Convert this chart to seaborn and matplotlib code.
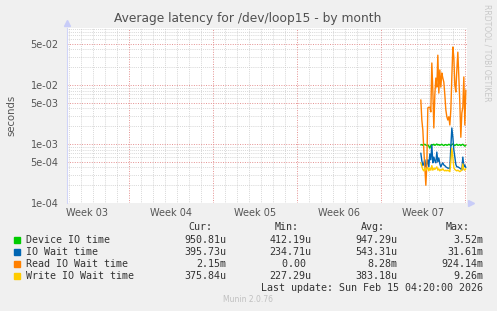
import matplotlib
matplotlib.use("Agg")
import numpy as np
import pandas as pd
import seaborn as sns
import matplotlib.pyplot as plt
import matplotlib.dates as mdates
import matplotlib.transforms as mtransforms
from matplotlib.ticker import FixedLocator, FixedFormatter, LogLocator, NullFormatter
from matplotlib.patches import Rectangle

# ---------------- data ----------------
series_names = ["Device IO time", "IO Wait time", "Read IO Wait time", "Write IO Wait time"]
series_colors = ["#00CC00", "#0066B3", "#FF8000", "#FFCC00"]

start_time = "2026-02-11 08:00"
step = "2h"

device_io = [9.6e-4, 9.8e-4, 9.5e-4, 9.7e-4, 9.9e-4, 9.6e-4, 9.4e-4, 9.7e-4, 9.2e-4, 8.5e-4,
             9.4e-4, 9.8e-4, 9.6e-4, 9.9e-4, 9.5e-4, 9.7e-4, 1.0e-3, 9.6e-4, 9.8e-4, 9.5e-4,
             9.7e-4, 9.9e-4, 9.6e-4, 9.4e-4, 9.7e-4, 9.8e-4, 9.5e-4, 9.6e-4, 9.9e-4, 9.7e-4,
             9.3e-4, 9.8e-4, 1.0e-3, 9.6e-4, 9.4e-4, 9.7e-4, 9.9e-4, 9.5e-4, 9.6e-4, 9.8e-4,
             9.4e-4, 9.7e-4, 9.9e-4, 9.5e-4, 9.2e-4, 9.5e-4]
io_wait = [7.0e-4, 5.2e-4, 4.3e-4, 4.7e-4, 5.4e-4, 4.1e-4, 4.6e-4, 5.4e-4, 4.1e-4, 6.8e-4,
           5.4e-4, 9.6e-4, 4.8e-4, 6.0e-4, 5.2e-4, 4.8e-4, 7.3e-4, 5.0e-4, 5.8e-4, 4.6e-4,
           4.1e-4, 4.5e-4, 4.8e-4, 4.4e-4, 4.3e-4, 4.1e-4, 4.0e-4, 3.9e-4, 3.9e-4, 3.8e-4,
           8.9e-4, 1.87e-3, 1.31e-3, 8.0e-4, 6.0e-4, 4.5e-4, 4.1e-4, 4.1e-4, 4.0e-4, 3.9e-4,
           3.8e-4, 3.6e-4, 6.0e-4, 4.1e-4, 4.4e-4, 4.0e-4]
read_io_wait = [5.6e-3, 2.55e-3, 1.73e-3, 7.9e-4, 4.1e-4, 2.0e-4, 4.4e-4, 4.1e-3, 4.2e-3, 4.2e-3,
                3.5e-3, 2.36e-2, 8.2e-3, 1.87e-3, 6.8e-3, 1.31e-2, 9.2e-3, 3.2e-2, 7.3e-3, 1.8e-2,
                9.2e-3, 1.6e-2, 1.31e-2, 1.12e-2, 6.8e-3, 3.8e-3, 2.9e-3, 2.55e-3, 2.9e-3, 2.1e-3,
                3.8e-3, 1.37e-2, 4.4e-2, 2.9e-2, 1.0e-2, 7.6e-3, 1.8e-2, 3.6e-2, 1.37e-2, 5.0e-3,
                1.3e-3, 3.35e-3, 4.2e-3, 1.37e-2, 2.1e-3, 8.2e-3]
write_io_wait = [4.8e-4, 4.2e-4, 3.7e-4, 3.5e-4, 3.9e-4, 3.6e-4, 3.8e-4, 4.0e-4, 3.5e-4, 3.9e-4,
                 3.6e-4, 4.3e-4, 3.6e-4, 3.9e-4, 3.7e-4, 3.9e-4, 4.1e-4, 3.6e-4, 3.8e-4, 3.5e-4,
                 3.7e-4, 3.6e-4, 3.8e-4, 3.6e-4, 3.5e-4, 3.6e-4, 3.5e-4, 3.6e-4, 3.5e-4, 3.4e-4,
                 5.0e-4, 8.5e-4, 6.0e-4, 4.0e-4, 3.7e-4, 3.6e-4, 3.5e-4, 3.6e-4, 3.5e-4, 3.4e-4,
                 3.5e-4, 3.6e-4, 4.6e-4, 3.7e-4, 3.6e-4, 3.8e-4]

ytick_values = [1e-4, 5e-4, 1e-3, 5e-3, 1e-2, 5e-2]
ytick_labels = ["1e-04", "5e-04", "1e-03", "5e-03", "1e-02", "5e-02"]

cur_vals = ["950.81u", "395.73u", "2.15m", "375.84u"]
min_vals = ["412.19u", "234.71u", "0.00 ", "227.29u"]
avg_vals = ["947.29u", "543.31u", "8.28m", "383.18u"]
max_vals = ["3.52m", "31.61m", "924.14m", "9.26m"]

title = "Average latency for /dev/loop15 - by month"
last_update = "Last update: Sun Feb 15 04:20:00 2026"
end_time = pd.Timestamp("2026-02-15 04:20")

# ---------------- figure ----------------
sns.set_theme(style="white")
plt.rcParams["font.family"] = ["DejaVu Sans"]

W, H = 497, 311
fig = plt.figure(figsize=(W / 100, H / 100), dpi=100, facecolor="#F0F0F0")
ax = fig.add_axes([67 / W, 108 / H, 400 / W, 175 / H])
ax.set_facecolor("white")

times = pd.date_range(start_time, periods=len(device_io), freq=step)
frames = []
for name, vals in zip(series_names, [device_io, io_wait, read_io_wait, write_io_wait]):
    frames.append(pd.DataFrame({"time": times, "value": vals, "series": name}))
df = pd.concat(frames, ignore_index=True)

sns.lineplot(data=df, x="time", y="value", hue="series", hue_order=series_names,
             palette=series_colors, linewidth=1.0, legend=False, ax=ax,
             estimator=None, sort=False)

ax.set_yscale("log")
ax.set_ylim(1e-4, 10 ** (-4 + 175 / 59))
x0 = end_time - pd.Timedelta(days=33.33)
ax.set_xlim(mdates.date2num(x0), mdates.date2num(end_time))

# x grid: sundays (major, red) and days (minor, gray)
sundays = pd.date_range("2026-01-04", "2026-02-22", freq="7D")
days = pd.date_range("2026-01-01", "2026-02-20", freq="1D")
ax.xaxis.set_major_locator(FixedLocator(mdates.date2num(sundays)))
ax.xaxis.set_minor_locator(FixedLocator(mdates.date2num(days)))
ax.xaxis.set_major_formatter(NullFormatter())
ax.xaxis.set_minor_formatter(NullFormatter())

ax.yaxis.set_major_locator(FixedLocator(ytick_values))
ax.yaxis.set_major_formatter(FixedFormatter(ytick_labels))
ax.yaxis.set_minor_locator(LogLocator(base=10, subs=[2, 3, 4, 6, 7, 8, 9], numticks=20))
ax.yaxis.set_minor_formatter(NullFormatter())

ax.grid(which="major", color="#E49090", linestyle=(0, (1, 1.5)), linewidth=0.7)
ax.grid(which="minor", color="#C4C4C4", linestyle=(0, (1, 1.5)), linewidth=0.55)
ax.set_axisbelow(True)

ax.tick_params(axis="x", which="both", length=0)
ax.tick_params(axis="y", which="both", length=0, pad=6, labelsize=7, labelcolor="#555555")
ax.set_xlabel("")
ax.set_ylabel("")

for s in ["top", "right", "bottom"]:
    ax.spines[s].set_visible(False)
ax.spines["left"].set_color("#D0D4F8")
ax.spines["left"].set_linewidth(0.8)

ax.plot([0], [1.03], marker="^", color="#C8CCF8", ms=4, transform=ax.transAxes, clip_on=False)
ax.plot([1.01], [0], marker=">", color="#C8CCF8", ms=4, transform=ax.transAxes, clip_on=False)

# week labels centered mid-week
trans = mtransforms.blended_transform_factory(ax.transData, fig.transFigure)
for sun in sundays[:-1]:
    mid = sun + pd.Timedelta(days=3.5)
    if x0 <= mid <= end_time:
        ax.text(mdates.date2num(mid), 1 - 212.5 / H, "Week %02d" % mid.isocalendar()[1],
                transform=trans, ha="center", va="center", fontsize=7, color="#555555")

# texts
fig.text(248 / W, 1 - 18.5 / H, title, ha="center", va="center", fontsize=8.8, color="#505050")
fig.text(11 / W, 1 - 115 / H, "seconds", rotation=90, ha="center", va="center",
         fontsize=7.3, color="#555555")
fig.text(487 / W, 1 - 53 / H, "RRDTOOL / TOBI OETIKER", rotation=270, ha="center", va="center",
         fontsize=5.5, color="#C8C8C8")

mono = "DejaVu Sans Mono"
fs = 7.2
tc = "#333333"
hy = 1 - 227.3 / H
for lbl, xr in zip(["Cur:", "Min:", "Avg:", "Max:"], [212.7, 299, 385, 470]):
    fig.text(xr / W, hy, lbl, ha="right", va="center", family=mono, fontsize=fs, color=tc)

row_y = [240, 251.8, 263.7, 275.7]
for i, name in enumerate(series_names):
    y = 1 - row_y[i] / H
    fig.add_artist(Rectangle((14 / W, y - 2.8 / H), 5.5 / W, 5.5 / H,
                             transform=fig.transFigure, color=series_colors[i]))
    fig.text(26 / W, y, name, ha="left", va="center", family=mono, fontsize=fs, color=tc)
    for vals, xr in zip([cur_vals, min_vals, avg_vals, max_vals], [226, 311.7, 397, 483]):
        fig.text(xr / W, y, vals[i], ha="right", va="center", family=mono, fontsize=fs, color=tc)

fig.text(483 / W, 1 - 287.7 / H, last_update, ha="right", va="center", family=mono,
         fontsize=fs, color=tc)
fig.text(248 / W, 1 - 300 / H, "Munin 2.0.76", ha="center", va="center", fontsize=5.5,
         color="#C0C0C0")

fig.savefig("out.png", dpi=100, facecolor=fig.get_facecolor())
